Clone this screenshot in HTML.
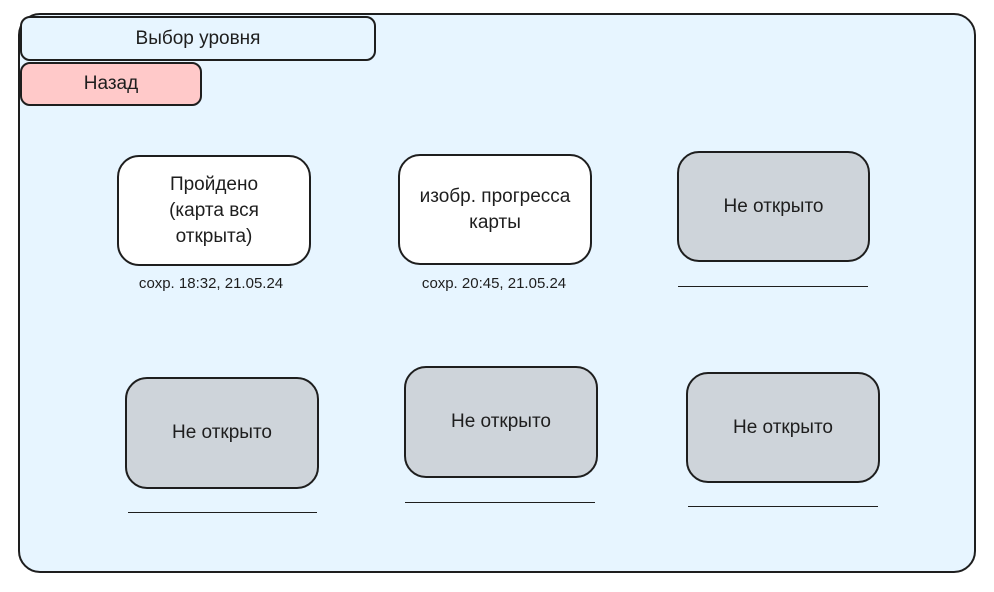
<!DOCTYPE html>
<html><head><meta charset="utf-8"><style>
body{margin:0;width:994px;height:592px;background:#fff;position:relative;overflow:hidden;font-family:"Liberation Sans","DejaVu Sans",sans-serif;color:#1e1e1e}
.b{position:absolute;box-sizing:border-box;border:2px solid #1e1e1e;display:flex;align-items:center;justify-content:center;text-align:center;font-size:19px;line-height:26px}
.c{position:absolute;font-size:15px;width:220px;text-align:center}
.l{position:absolute;height:0;border-top:1.5px solid #1e1e1e}
</style></head><body>
<div class="b" style="left:18px;top:13px;width:958px;height:560px;background:#e7f5ff;border-radius:22px"></div>
<div class="b" style="left:20px;top:16px;width:356px;height:45px;background:#e7f5ff;border-radius:10px">Выбор уровня</div>
<div class="b" style="left:20px;top:62px;width:182px;height:44px;background:#ffc9c9;border-radius:10px">Назад</div>

<div class="b" style="left:117px;top:155px;width:194px;height:111px;background:#fff;border-radius:22px">Пройдено<br>(карта вся<br>открыта)</div>
<div class="c" style="left:101px;top:275px">сохр. 18:32, 21.05.24</div>
<div class="b" style="left:398px;top:154px;width:194px;height:111px;background:#fff;border-radius:22px">изобр. прогресса<br>карты</div>
<div class="c" style="left:384px;top:275px">сохр. 20:45, 21.05.24</div>
<div class="b" style="left:677px;top:151px;width:193px;height:111px;background:#ced4da;border-radius:22px">Не открыто</div>
<div class="l" style="left:678px;top:286px;width:190px"></div>

<div class="b" style="left:125px;top:377px;width:194px;height:112px;background:#ced4da;border-radius:22px">Не открыто</div>
<div class="l" style="left:128px;top:512px;width:189px"></div>
<div class="b" style="left:404px;top:366px;width:194px;height:112px;background:#ced4da;border-radius:22px">Не открыто</div>
<div class="l" style="left:405px;top:502px;width:190px"></div>
<div class="b" style="left:686px;top:372px;width:194px;height:111px;background:#ced4da;border-radius:22px">Не открыто</div>
<div class="l" style="left:688px;top:506px;width:190px"></div>
</body></html>
